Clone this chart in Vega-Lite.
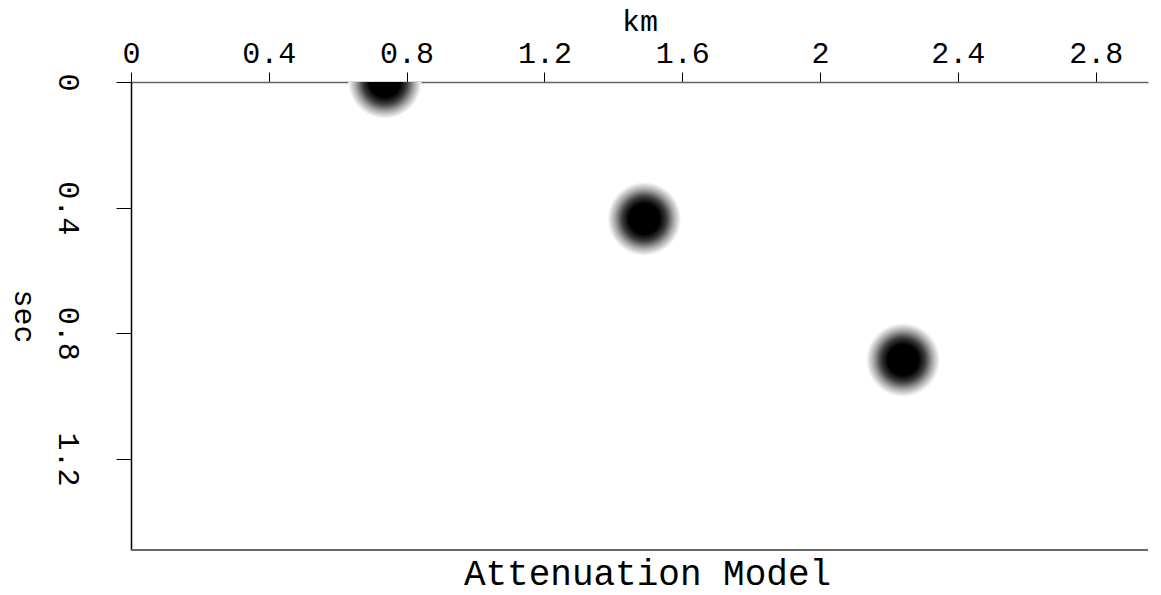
{
  "$schema": "https://vega.github.io/schema/vega-lite/v6.json",
  "autosize": "none",
  "padding": {"left": 131, "top": 82, "right": 13, "bottom": 45},
  "width": 1017,
  "height": 468,
  "background": "white",
  "config": {"view": {"stroke": null}},
  "title": {"text": "Attenuation Model", "orient": "bottom", "anchor": "middle", "font": "Liberation Mono", "fontSize": 36, "fontWeight": "normal", "color": "black", "offset": 6, "dx": 8},
  "data": {"values": [
    {"km": 0.737, "sec": 0.0},
    {"km": 1.49, "sec": 0.436},
    {"km": 2.241, "sec": 0.885}
  ]},
  "layer": [
    {
      "mark": {"type": "point", "shape": "circle", "filled": true, "clip": true, "size": 5400, "opacity": 1, "strokeWidth": 0,
        "color": {"gradient": "radial", "x1": 0.5, "y1": 0.5, "r1": 0, "x2": 0.5, "y2": 0.5, "r2": 0.5,
          "stops": [{"offset": 0, "color": "#000000"}, {"offset": 0.42, "color": "#000000"}, {"offset": 0.6, "color": "#3c3c3c"}, {"offset": 0.8, "color": "#a8a8a8"}, {"offset": 1, "color": "#ffffff"}]}},
      "encoding": {
        "x": {"field": "km", "type": "quantitative", "scale": {"domain": [0, 2.952], "nice": false, "zero": false},
          "axis": {"orient": "top", "values": [0, 0.4, 0.8, 1.2, 1.6, 2, 2.4, 2.8], "labelExpr": "datum.value", "title": "km",
            "grid": false, "tickSize": 10, "tickColor": "black", "domainColor": "#666666", "domainWidth": 1.5,
            "labelFont": "Liberation Mono", "labelFontSize": 30, "labelColor": "black", "labelPadding": 4, "labelFlush": false, "labelOverlap": false,
            "titleFont": "Liberation Mono", "titleFontSize": 30, "titleFontWeight": "normal", "titleColor": "black", "titlePadding": 2}},
        "y": {"field": "sec", "type": "quantitative", "scale": {"domain": [0, 1.49], "nice": false, "zero": false, "reverse": true},
          "axis": {"orient": "left", "values": [0, 0.4, 0.8, 1.2], "labelExpr": "datum.value", "title": "sec",
            "grid": false, "tickSize": 15, "tickColor": "black", "domainColor": "black", "domainWidth": 1.5,
            "labelFont": "Liberation Mono", "labelFontSize": 30, "labelColor": "black", "labelAngle": 90, "labelAlign": "center", "labelBaseline": "top", "labelPadding": 34, "labelFlush": false, "labelOverlap": false,
            "titleFont": "Liberation Mono", "titleFontSize": 30, "titleFontWeight": "normal", "titleColor": "black", "titleAngle": 90, "titlePadding": 44}}
      }
    },
    {
      "mark": {"type": "rule", "color": "#666666", "strokeWidth": 1.5},
      "encoding": {"y": {"datum": 1.49}}
    }
  ]
}
